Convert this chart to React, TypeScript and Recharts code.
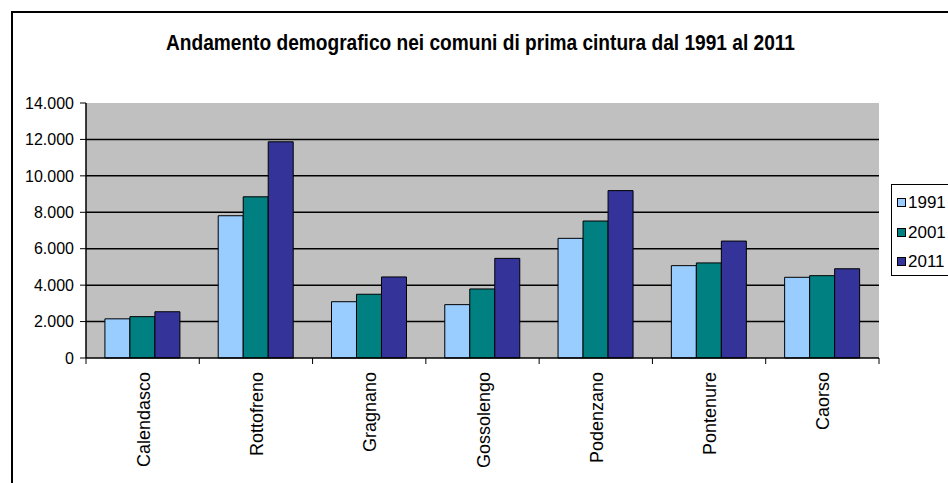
import React from 'react';
import { BarChart, Bar, XAxis, YAxis, CartesianGrid, Legend } from 'recharts';

const categories = ['Calendasco', 'Rottofreno', 'Gragnano', 'Gossolengo', 'Podenzano', 'Pontenure', 'Caorso'];
const pop1991 = [2150, 7810, 3090, 2930, 6570, 5070, 4430];
const pop2001 = [2270, 8850, 3500, 3790, 7520, 5220, 4520];
const pop2011 = [2540, 11870, 4450, 5470, 9190, 6420, 4900];
const yTicks = [0, 2000, 4000, 6000, 8000, 10000, 12000, 14000];
const gridValues = [2000, 4000, 6000, 8000, 10000, 12000];
const seriesKeys = ['y1991', 'y2001', 'y2011'];
const seriesNames = ['1991', '2001', '2011'];
const seriesColors = ['#99CCFF', '#008080', '#333399'];
const title = 'Andamento demografico nei comuni di prima cintura dal 1991 al 2011';

const data = categories.map((name, i) => ({
  name,
  y1991: pop1991[i],
  y2001: pop2001[i],
  y2011: pop2011[i],
}));

const FONT = 'Arial, "Liberation Sans", sans-serif';

const fmt = (v: number) => String(v).replace(/\B(?=(\d{3})+(?!\d))/g, '.');

const CatTick = (props: any) => {
  const { x, y, payload, index } = props;
  const half = payload.offset || 0;
  const tx = x + 7;
  const ty = y + 14;
  return (
    <g>
      <line x1={x - half} x2={x - half} y1={y} y2={y + 6} stroke="#000" strokeWidth={1} />
      {index === categories.length - 1 && (
        <line x1={x + half} x2={x + half} y1={y} y2={y + 6} stroke="#000" strokeWidth={1} />
      )}
      <text
        x={tx}
        y={ty}
        transform={`rotate(-90, ${tx}, ${ty})`}
        textAnchor="end"
        fontSize={18}
        fontFamily={FONT}
        fill="#000"
      >
        {payload.value}
      </text>
    </g>
  );
};

const LegendBox = () => (
  <div
    style={{
      width: 70,
      height: 92,
      border: '1px solid #000',
      background: '#fff',
      boxSizing: 'border-box',
      fontFamily: FONT,
      fontSize: 17,
      paddingTop: 3,
    }}
  >
    {seriesNames.map((n, i) => (
      <div key={n} style={{ display: 'flex', alignItems: 'center', height: 29.5, paddingLeft: 5 }}>
        <div
          style={{
            width: 7,
            height: 7,
            background: seriesColors[i],
            border: '1px solid #000',
            marginRight: 2,
          }}
        />
        <span style={{ lineHeight: '17px' }}>{n}</span>
      </div>
    ))}
  </div>
);

export default function App() {
  return (
    <div
      style={{
        position: 'absolute',
        left: 0,
        top: 0,
        width: 948,
        height: 483,
        overflow: 'hidden',
        background: '#fff',
      }}
    >
      <div
        style={{
          position: 'absolute',
          left: 11,
          top: 11,
          width: 1000,
          height: 1000,
          border: '2px solid #000',
        }}
      />
      <div style={{ position: 'absolute', left: 0, top: 0 }}>
        <BarChart
          width={948}
          height={483}
          data={data}
          margin={{ top: 103, right: 69, left: 0, bottom: 0 }}
          barCategoryGap="16.7%"
          barGap={0}
        >
          <text
            x={480.5}
            y={50}
            textAnchor="middle"
            fontSize={22}
            fontWeight="bold"
            fontFamily={FONT}
            textLength={629}
            lengthAdjust="spacingAndGlyphs"
            fill="#000"
          >
            {title}
          </text>
          <CartesianGrid
            vertical={false}
            horizontalValues={gridValues}
            stroke="#000"
            strokeWidth={1.5}
            fill="#C0C0C0"
            fillOpacity={1}
          />
          <XAxis
            dataKey="name"
            height={125}
            interval={0}
            tickLine={false}
            tickSize={0}
            tickMargin={0}
            axisLine={{ stroke: '#000', strokeWidth: 1.5 }}
            tick={<CatTick />}
          />
          <XAxis
            xAxisId="top"
            dataKey="name"
            orientation="top"
            height={0}
            tick={false}
            tickLine={false}
            axisLine={{ stroke: '#707070', strokeWidth: 1.5 }}
          />
          <YAxis
            width={86}
            domain={[0, 14000]}
            ticks={yTicks}
            interval={0}
            tickFormatter={fmt}
            tickMargin={6}
            tickSize={6}
            tick={{ fontSize: 16, fill: '#000', fontFamily: FONT }}
            tickLine={{ stroke: '#000' }}
            axisLine={{ stroke: '#000', strokeWidth: 1.5 }}
          />
          <YAxis
            yAxisId="right"
            orientation="right"
            width={0}
            domain={[0, 14000]}
            tick={false}
            tickLine={false}
            axisLine={{ stroke: '#707070', strokeWidth: 1.5 }}
          />
          {seriesKeys.map((k, i) => (
            <Bar
              key={k}
              dataKey={k}
              name={seriesNames[i]}
              fill={seriesColors[i]}
              stroke="#000"
              strokeWidth={1}
              isAnimationActive={false}
            />
          ))}
          <Legend
            layout="horizontal"
            verticalAlign="middle"
            align="center"
            wrapperStyle={{ position: 'absolute', left: 891, top: 184, width: 70, height: 92 }}
            content={<LegendBox />}
          />
        </BarChart>
      </div>
    </div>
  );
}
